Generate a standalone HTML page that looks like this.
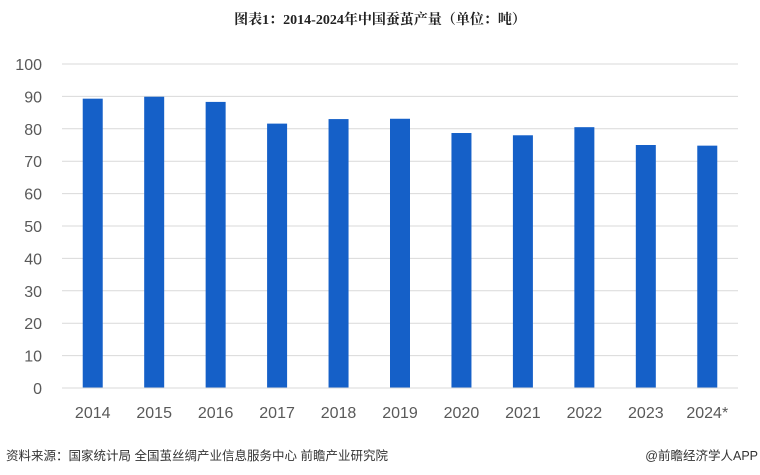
<!DOCTYPE html>
<html><head><meta charset="utf-8"><style>
body{margin:0;background:#fff;width:760px;height:475px;overflow:hidden;font-family:"Liberation Sans","Noto Sans CJK SC",sans-serif}
.t{position:absolute}
</style></head><body>
<div class="t" style="left:0;top:9px;width:760px;text-align:center;font-weight:bold;font-size:14px;color:#222;font-family:'Liberation Serif','Noto Serif CJK SC',serif">图表1：2014-2024年中国蚕茧产量（单位：吨）</div>
<svg id="c" width="760" height="475" style="position:absolute;left:0;top:0"></svg>
<div class="t" style="left:6px;top:445px;font-size:12.5px;color:#333">资料来源：国家统计局 全国茧丝绸产业信息服务中心 前瞻产业研究院</div>
<div class="t" style="right:2px;top:445px;font-size:12.5px;color:#333">@前瞻经济学人APP</div>
<script>
const categories=["2014","2015","2016","2017","2018","2019","2020","2021","2022","2023","2024*"];
const values=[89.3,89.9,88.3,81.6,83.0,83.1,78.7,78.0,80.5,75.0,74.8];
const yTicks=[0,10,20,30,40,50,60,70,80,90,100];
const svg=document.getElementById('c');const NS='http://www.w3.org/2000/svg';
const x0=62,x1=738,yb=388,yt=64;
const y=v=>yb-(v/100)*(yb-yt);
const step=(x1-x0)/categories.length;
const xc=i=>x0+step*(i+0.5);
function mk(t,a){const e=document.createElementNS(NS,t);for(const k in a)e.setAttribute(k,a[k]);svg.appendChild(e);return e;}
yTicks.forEach(v=>{
 if(v>0){const g=mk('line',{x1:x0,x2:x1,y1:y(v),y2:y(v),stroke:'#d9d9d9','stroke-width':1});
 
 }
 const t=mk('text',{x:42,y:y(v)+6,'text-anchor':'end','font-size':16,fill:'#595959','font-family':'Liberation Sans,sans-serif'});t.textContent=v;
 
 
});
categories.forEach((c,i)=>{
 const r=mk('rect',{x:xc(i)-10,y:y(values[i]),width:20,height:yb-y(values[i]),fill:'#1560c8'});
 
 
 const t=mk('text',{x:xc(i),y:418,'text-anchor':'middle','font-size':16,fill:'#595959','font-family':'Liberation Sans,sans-serif'});t.textContent=c;
 
 
});
const ax=mk('line',{x1:x0,x2:x1,y1:yb,y2:yb,stroke:'#d9d9d9','stroke-width':1});


</script>
</body></html>
